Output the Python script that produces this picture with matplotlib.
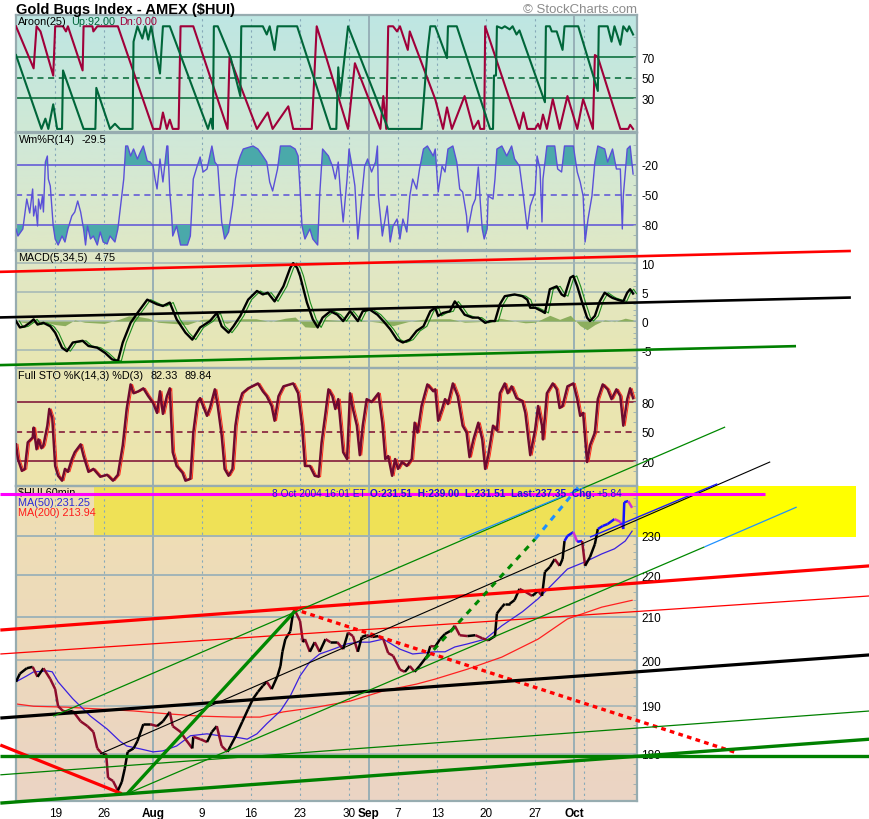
import numpy as np
import matplotlib
matplotlib.use("Agg")
import matplotlib.pyplot as plt
from matplotlib.collections import LineCollection
from matplotlib.patches import Rectangle
from matplotlib.ticker import FixedLocator, FixedFormatter, NullFormatter
from matplotlib.colors import to_rgb

plt.rcParams['font.family'] = ['Liberation Sans', 'DejaVu Sans']
plt.rcParams['axes.unicode_minus'] = False

# time axis in trading days, 0 = Mon 19 Jul 2004 (hourly data)
tick_days = [0, 5, 10, 15, 20, 25, 30, 32, 35, 39, 44, 49, 53]
tick_text = ['19', '26', 'Aug', '9', '16', '23', '30', 'Sep', '7', '13', '20', '27', 'Oct']
week_days = [0, 5, 15, 20, 25, 30, 35, 39, 44, 49, 54]
month_days = [10, 32, 53]

# Aroon(25) up / down  (day, value)
aroon_up = [(-4.0, 72), (-1.4, 0), (-1.0, 10), (-0.7, 0), (-0.2, 24), (0.2, 0), (0.7, 0), (0.8, 57),
            (2.9, 0), (4.1, 0), (4.2, 40), (5.6, 0), (6.1, 5), (6.6, 0), (7.9, 0), (8.0, 85),
            (8.4, 100), (8.9, 88), (9.2, 100), (9.5, 87), (9.8, 100), (10.4, 69), (10.7, 54),
            (11.0, 100), (11.7, 100), (15.6, 0), (15.9, 10), (16.1, 0), (16.2, 100), (16.6, 100),
            (17.9, 70), (18.9, 32), (19.0, 100), (21.2, 100), (21.6, 92), (21.9, 100), (22.4, 77),
            (22.7, 100), (24.7, 100), (28.1, 0), (28.7, 0), (28.9, 60), (29.1, 32), (29.9, 100),
            (34.0, 0), (37.4, 0), (38.0, 75), (38.3, 100), (38.8, 100), (40.0, 69), (40.1, 100),
            (41.0, 100), (44.4, 0), (44.7, 0), (44.8, 52), (45.0, 52), (45.1, 100), (45.6, 98),
            (45.9, 100), (46.4, 97), (46.7, 100), (47.1, 92), (47.4, 96), (50.0, 26), (50.1, 100),
            (50.5, 100), (50.7, 95), (51.2, 95), (51.8, 77), (52.0, 100), (53.4, 100), (55.4, 37),
            (55.5, 100), (56.4, 100), (56.8, 85), (57.1, 100), (57.7, 82), (58.0, 100), (58.4, 95),
            (58.6, 100), (59.0, 92)]
aroon_dn = [(-4.0, 100), (-2.2, 59), (-1.9, 100), (-1.5, 95), (-0.2, 52), (0.0, 100), (0.8, 100),
            (1.1, 95), (1.3, 100), (2.8, 57), (2.9, 100), (3.8, 100), (3.9, 95), (4.3, 100),
            (6.4, 100), (10.0, 0), (10.7, 0), (11.0, 16), (11.4, 0), (11.7, 9), (12.0, 0), (12.6, 0),
            (12.8, 100), (14.1, 100), (17.6, 0), (17.8, 70), (20.6, 0), (21.7, 16), (22.2, 0),
            (23.8, 22), (24.3, 0), (26.2, 0), (26.7, 100), (29.9, 0), (30.6, 64), (33.2, 0),
            (33.5, 32), (33.8, 0), (34.0, 100), (34.5, 100), (34.9, 95), (35.2, 100), (36.0, 77),
            (36.2, 95), (38.8, 29), (39.6, 0), (40.0, 21), (40.5, 0), (41.8, 32), (42.7, 0),
            (43.2, 8), (43.4, 0), (43.8, 0), (43.9, 100), (47.4, 0), (47.8, 16), (48.2, 0), (49.0, 0),
            (49.3, 5), (49.5, 0), (49.8, 14), (50.2, 0), (50.8, 29), (51.5, 0), (52.3, 32), (53.3, 0),
            (53.9, 29), (54.9, 0), (55.1, 72), (55.4, 70), (57.7, 0), (58.5, 0), (58.7, 4), (59.0, 0)]

# Williams %R(14)
wmr = [(-4.0, -84), (-3.8, -91), (-3.3, -84), (-2.9, -54), (-2.6, -68), (-2.3, -44), (-2.2, -71),
       (-2.0, -61), (-1.8, -81), (-1.7, -54), (-1.5, -64), (-1.3, -51), (-1.2, -67), (-1.0, -17),
       (-0.8, -11), (-0.7, -34), (-0.5, -41), (-0.2, -81), (0.0, -94), (0.3, -100), (0.7, -91),
       (1.0, -97), (1.3, -84), (1.7, -71), (2.0, -67), (2.3, -56), (2.6, -67), (2.9, -84),
       (3.1, -100), (3.3, -81), (3.6, -94), (3.9, -91), (4.3, -100), (4.6, -87), (4.9, -97),
       (5.3, -99), (5.6, -91), (6.1, -97), (6.4, -84), (6.8, -51), (7.0, -34), (7.2, -1), (7.4, -1),
       (7.7, -11), (8.0, -4), (8.4, -14), (8.7, -7), (9.0, -1), (9.4, -16), (9.7, -17), (10.0, -21),
       (10.2, -34), (10.4, -44), (10.7, -14), (11.0, -37), (11.4, -1), (11.5, -1), (11.7, -47),
       (11.9, -71), (12.0, -91), (12.4, -81), (12.8, -100), (13.5, -100), (13.8, -91), (14.0, -54),
       (14.1, -34), (14.5, -21), (14.8, -12), (15.1, -27), (15.5, -24), (16.0, -1), (16.3, -17),
       (16.6, -21), (17.0, -77), (17.3, -94), (17.7, -87), (18.1, -61), (18.4, -34), (18.7, -17),
       (18.9, -11), (19.2, -4), (20.2, -1), (20.7, -4), (21.2, -11), (21.6, -17), (21.9, -37),
       (22.2, -46), (22.7, -24), (23.0, -1), (24.0, -1), (24.5, -4), (24.8, -11), (25.0, -44),
       (25.2, -81), (25.5, -94), (26.0, -84), (26.3, -94), (26.8, -100), (27.0, -51), (27.3, -4),
       (27.9, -11), (28.3, -21), (28.6, -34), (28.9, -17), (29.1, -44), (29.4, -77), (29.8, -34),
       (30.0, -4), (30.3, -21), (30.6, -41), (30.9, -94), (31.3, -51), (31.6, -21), (31.9, -14),
       (32.3, -27), (32.7, -17), (32.9, -1), (33.0, -51), (33.4, -91), (33.9, -61), (34.2, -97),
       (34.5, -81), (34.9, -74), (35.2, -94), (35.5, -74), (35.9, -87), (36.2, -51), (36.5, -34),
       (36.9, -44), (37.2, -24), (37.6, -4), (38.0, -1), (38.6, -11), (38.8, -4), (39.1, -47),
       (39.5, -21), (39.8, -27), (40.1, -4), (40.6, -1), (41.0, -17), (41.3, -44), (41.6, -47),
       (42.0, -71), (42.1, -87), (42.6, -61), (42.9, -54), (43.2, -22), (43.4, -57), (43.6, -84),
       (43.8, -94), (44.1, -84), (44.2, -51), (44.7, -54), (44.9, -34), (45.1, -4), (45.6, -1),
       (46.1, -11), (46.6, -1), (46.9, -14), (47.4, -21), (47.8, -51), (48.2, -84), (48.5, -61),
       (49.0, -47), (49.2, -11), (49.5, -24), (49.7, -77), (49.8, -34), (50.2, -1), (51.0, -1),
       (51.3, -24), (51.7, -27), (52.0, -1), (52.9, -1), (53.3, -27), (53.6, -37), (53.9, -51),
       (54.1, -97), (54.4, -74), (54.8, -51), (55.1, -17), (55.4, -1), (56.1, -4), (56.4, -17),
       (56.9, -4), (57.3, -24), (57.7, -24), (57.9, -84), (58.0, -51), (58.4, -4), (58.7, -1),
       (59.0, -29)]

# MACD(5,34,5) line and histogram
macd = [(-4.0, 0.0), (-3.6, -1.1), (-3.1, -0.9), (-2.6, -0.3), (-2.2, 0.3), (-1.8, -0.6), (-1.2, -0.3),
        (-0.5, -0.9), (0.0, -2.0), (0.7, -4.6), (1.2, -5.2), (1.8, -3.7), (2.8, -3.4), (3.4, -4.3),
        (4.3, -4.6), (5.1, -5.5), (5.8, -6.6), (6.4, -6.9), (6.9, -3.7), (7.7, -0.3), (8.4, 1.4),
        (9.4, 3.7), (10.4, 2.9), (11.0, 2.6), (11.7, 3.2), (12.4, 0.3), (13.3, -2.0), (14.0, -3.2),
        (14.8, -1.1), (15.8, 0.0), (16.5, 1.4), (17.0, -0.9), (17.7, -2.0), (18.2, -0.9), (18.9, 0.9),
        (19.7, 3.7), (20.6, 5.2), (21.2, 4.6), (21.7, 4.9), (22.4, 3.4), (23.3, 6.0), (24.0, 9.2),
        (24.3, 10.0), (24.7, 9.2), (25.0, 7.8), (25.7, 3.2), (26.3, 0.3), (26.8, -1.1), (27.3, 0.6),
        (28.1, 1.7), (28.8, 1.1), (29.4, 0.0), (30.1, 1.7), (30.4, 1.1), (30.9, 0.0), (31.4, 1.7),
        (32.1, 2.0), (32.9, 1.1), (33.5, 0.0), (34.2, -1.4), (34.9, -3.2), (35.5, -3.7), (36.2, -3.2),
        (36.9, -1.7), (37.6, -0.9), (38.3, 1.7), (38.8, 2.3), (39.1, 0.9), (39.6, 1.4), (40.3, 1.7),
        (40.8, 3.4), (41.3, 2.3), (41.8, 1.1), (42.6, 0.6), (43.2, 0.6), (43.9, -0.3), (44.4, 0.0),
        (44.9, 0.0), (45.4, 2.9), (45.9, 4.3), (46.9, 4.6), (47.7, 4.3), (48.2, 3.7), (48.5, 2.3),
        (49.0, 2.3), (49.7, 1.7), (50.0, 1.4), (50.5, 5.5), (51.2, 6.0), (51.7, 4.6), (52.0, 4.3),
        (52.6, 7.5), (52.9, 7.8), (53.3, 6.0), (53.8, 3.2), (54.3, 0.6), (54.6, 0.0), (55.1, 0.9),
        (55.6, 3.4), (56.1, 4.9), (56.6, 4.3), (56.9, 4.0), (57.4, 3.7), (58.0, 3.4), (58.4, 4.9),
        (58.7, 5.5), (59.0, 4.75)]
macd_hist = [(-4.0, 0.0), (-3.0, -0.3), (-1.0, -0.2), (0.0, -0.6), (1.0, -0.8), (2.0, 0.2), (3.0, -0.2),
             (5.0, -0.4), (6.5, 0.3), (7.5, 0.9), (8.5, 0.8), (9.5, 0.5), (10.5, -0.2), (12.0, -0.4),
             (13.5, -0.6), (15.0, 0.3), (16.5, 0.4), (17.5, -0.4), (19.0, 0.4), (20.5, 0.4), (22.0, -0.1),
             (23.5, 0.5), (24.5, 0.7), (25.5, -1.0), (26.5, -1.1), (27.5, 0.3), (29.0, 0.1), (30.0, 0.2),
             (31.5, 0.1), (33.0, -0.2), (34.5, -0.8), (36.0, -0.1), (37.5, 0.3), (38.8, 0.4), (40.3, 0.4),
             (41.8, -0.2), (43.2, -0.1), (44.9, 0.2), (45.4, 0.5), (46.9, 0.0), (48.0, -0.3), (49.0, -0.2),
             (50.5, 1.0), (51.5, 0.3), (52.6, 1.0), (53.6, -0.8), (54.3, -1.5), (55.1, -0.6), (56.1, 0.2),
             (57.1, -0.1), (58.2, 0.5), (59.0, 0.2)]

# Full Stochastics %K(14,3)
sto_k = [(-4.0, 37), (-3.8, 22), (-3.4, 10), (-3.1, 12), (-2.8, 39), (-2.3, 44), (-2.2, 54), (-1.9, 32),
         (-1.7, 42), (-1.4, 33), (-1.2, 36), (-0.8, 56), (-0.6, 73), (-0.3, 64), (0.0, 15), (0.3, 5),
         (0.7, 0), (1.0, 12), (1.3, 9), (1.7, 22), (2.0, 29), (2.6, 37), (2.9, 25), (3.4, 9), (3.9, 12),
         (4.6, 4), (5.3, 6), (5.9, 0), (6.4, 6), (6.9, 36), (7.3, 73), (7.7, 98), (8.0, 89), (8.5, 91),
         (9.0, 94), (9.5, 86), (10.0, 79), (10.4, 69), (10.7, 91), (11.0, 68), (11.4, 86), (11.7, 94),
         (12.0, 29), (12.4, 15), (13.0, 8), (13.3, 0), (13.8, 2), (14.1, 49), (14.5, 80), (14.8, 84),
         (15.1, 76), (15.5, 66), (15.8, 74), (16.3, 93), (16.6, 76), (17.0, 46), (17.3, 12), (17.7, 5),
         (18.1, 12), (18.4, 56), (18.7, 76), (19.1, 89), (19.7, 94), (20.7, 99), (21.2, 91), (21.6, 86),
         (22.1, 76), (22.4, 61), (22.8, 86), (23.3, 96), (24.3, 99), (24.8, 89), (25.2, 56), (25.5, 15),
         (26.0, 15), (26.5, 5), (26.9, 4), (27.2, 39), (27.6, 69), (27.9, 93), (28.3, 86), (28.6, 73),
         (28.9, 83), (29.4, 29), (29.8, 22), (30.1, 89), (30.4, 73), (30.8, 56), (31.1, 26), (31.4, 56),
         (31.8, 83), (32.3, 80), (33.0, 89), (33.4, 59), (33.7, 22), (34.0, 25), (34.4, 5), (34.7, 22),
         (35.0, 12), (35.4, 19), (35.9, 15), (36.4, 22), (36.7, 59), (37.0, 49), (37.4, 76), (38.0, 98),
         (38.6, 91), (38.8, 93), (39.1, 61), (39.5, 73), (39.8, 83), (40.1, 78), (40.6, 99), (41.1, 86),
         (41.6, 56), (42.0, 49), (42.3, 24), (42.7, 42), (43.2, 59), (43.6, 42), (43.9, 12), (44.2, 25),
         (44.7, 56), (45.1, 51), (45.4, 89), (45.9, 99), (46.2, 89), (46.6, 96), (47.1, 84), (47.7, 81),
         (48.0, 69), (48.5, 26), (49.0, 52), (49.3, 76), (49.7, 56), (49.8, 42), (50.2, 89), (50.8, 99),
         (51.2, 93), (51.5, 74), (51.8, 76), (52.3, 96), (52.9, 99), (53.3, 83), (53.6, 66), (53.9, 69),
         (54.3, 19), (54.6, 36), (55.1, 49), (55.4, 83), (55.9, 98), (56.4, 93), (56.8, 83), (57.3, 93),
         (57.7, 86), (58.0, 56), (58.4, 83), (58.7, 94), (59.0, 84)]

# $HUI 60-min closes and moving averages
price = [(-4.0, 195.2), (-3.6, 197.0), (-2.9, 198.2), (-2.3, 198.5), (-1.8, 196.3), (-1.2, 198.2),
         (-0.5, 195.8), (0.0, 193.6), (0.3, 189.9), (0.8, 188.9), (1.3, 188.7), (1.8, 188.9), (2.6, 186.7),
         (3.3, 185.7), (3.9, 184.5), (4.3, 181.1), (4.8, 180.0), (5.2, 180.0), (5.4, 175.2), (5.9, 174.6),
         (6.4, 172.7), (6.8, 174.4), (7.1, 177.0), (7.4, 180.4), (8.0, 181.1), (8.4, 182.6), (9.0, 186.1),
         (9.7, 186.1), (10.4, 185.7), (11.0, 186.7), (11.7, 188.7), (12.0, 185.7), (12.8, 184.5),
         (13.3, 183.0), (14.0, 181.1), (14.1, 183.5), (14.8, 183.0), (15.5, 182.4), (16.0, 184.5),
         (16.5, 185.7), (17.0, 181.6), (17.6, 180.4), (17.9, 181.6), (18.4, 183.5), (19.1, 186.6),
         (19.7, 189.3), (20.2, 191.5), (20.7, 193.0), (21.2, 194.3), (21.6, 195.2), (22.1, 193.6),
         (22.7, 196.5), (23.0, 198.7), (23.2, 201.9), (23.5, 204.8), (24.0, 206.6), (24.3, 211.2),
         (24.5, 211.4), (25.0, 209.0), (25.3, 204.1), (25.5, 204.8), (26.0, 201.9), (26.5, 204.1),
         (27.0, 201.9), (27.6, 204.8), (28.1, 204.1), (28.8, 204.1), (29.4, 202.5), (29.9, 206.3),
         (30.4, 205.5), (30.9, 201.9), (31.3, 205.3), (31.8, 205.7), (32.4, 205.3), (33.0, 205.5),
         (33.5, 204.8), (34.0, 201.6), (34.5, 201.0), (35.2, 197.9), (35.7, 197.4), (36.2, 198.7),
         (36.7, 197.4), (37.2, 198.7), (38.0, 201.0), (38.3, 203.2), (38.8, 203.1), (39.3, 204.8),
         (39.8, 206.0), (40.5, 206.9), (40.8, 207.9), (41.3, 205.7), (42.1, 205.5), (42.9, 205.7),
         (43.6, 205.0), (44.2, 204.5), (44.9, 205.5), (45.1, 210.8), (45.6, 212.3), (45.9, 213.1),
         (46.4, 213.1), (46.9, 214.0), (47.4, 216.7), (48.0, 216.0), (48.7, 215.0), (49.3, 216.2),
         (49.7, 215.0), (50.0, 220.9), (50.5, 222.1), (51.0, 224.1), (51.5, 222.4), (51.8, 224.1),
         (52.0, 228.7), (52.3, 230.0), (52.9, 231.0), (53.3, 228.5), (53.8, 228.7), (54.1, 222.4),
         (54.6, 224.6), (55.1, 227.9), (55.4, 231.8), (55.9, 232.6), (56.4, 233.1), (57.1, 234.4),
         (57.7, 233.7), (58.0, 231.8), (58.1, 238.9), (58.5, 239.2), (58.9, 237.4)]
ma50 = [(-4.0, 195.2), (-2.9, 196.5), (-2.2, 197.4), (-0.8, 197.6), (-0.3, 197.4), (0.3, 195.2),
        (1.8, 191.5), (3.6, 187.8), (5.3, 185.1), (6.6, 182.6), (7.3, 181.6), (8.7, 181.0), (10.0, 180.4),
        (11.0, 180.6), (12.4, 181.6), (13.8, 183.7), (15.5, 184.1), (16.8, 183.7), (18.2, 183.5),
        (19.6, 183.0), (20.6, 184.1), (21.6, 186.2), (23.0, 188.9), (24.0, 192.1), (25.0, 196.5),
        (26.0, 199.6), (27.0, 201.4), (28.4, 202.5), (29.8, 203.7), (30.9, 204.1), (32.1, 204.1),
        (33.5, 204.8), (35.2, 202.5), (36.5, 201.4), (38.8, 201.9), (39.8, 201.9), (40.8, 203.0),
        (42.1, 203.7), (43.9, 204.8), (45.6, 207.9), (47.7, 211.2), (49.3, 214.3), (51.0, 218.4),
        (52.3, 221.6), (54.1, 223.4), (55.8, 225.4), (57.1, 226.7), (58.2, 228.7), (58.9, 231.25)]
ma200 = [(-4.0, 190.4), (-2.2, 189.9), (1.2, 189.7), (4.6, 189.3), (8.0, 188.9), (11.4, 188.3),
         (14.8, 187.8), (18.2, 187.6), (20.9, 187.6), (23.3, 188.7), (26.7, 189.7), (30.1, 191.0),
         (33.5, 193.2), (36.9, 194.7), (38.8, 195.8), (42.1, 198.0), (45.6, 200.7), (49.3, 204.8),
         (52.3, 209.5), (55.8, 212.3), (58.9, 213.94)]

# hand-drawn trend lines: (day0, price0, day1, price1)
trend_pts = [(-5.6, 206.9, 83.2, 222.4), (-5.6, 201.4, 83.2, 215.0), (24.3, 211.9, 69.6, 180.2),
             (-5.6, 181.8, 6.8, 172.1), (-5.6, 187.4, 83.2, 201.2), (4.6, 180.0, 73.0, 250.0),
             (7.35, 172.1, 24.5, 211.4), (37.8, 200.3, 49.0, 229.2), (49.0, 229.2, 53.4, 243.0),
             (-0.2, 187.8, 68.4, 260.0), (7.35, 172.1, 66.3, 227.2), (66.3, 227.2, 75.7, 237.6),
             (41.3, 229.2, 53.9, 242.8), (54.6, 229.7, 67.6, 243.9), (-5.6, 179.6, 83.2, 179.6),
             (-5.6, 170.3, 83.2, 183.0), (-5.6, 175.8, 83.2, 188.9), (-5.6, 241.1, 72.5, 241.1)]
trend_style = [('#ff0000', 2.3, None), ('#ff0000', 0.9, None), ('#ff0000', 2.4, (1.4, 1.3)),
               ('#ff0000', 2.3, None), ('#000000', 2.3, None), ('#000000', 0.8, None),
               ('#008800', 2.4, None), ('#008800', 2.2, (2, 2)), ('#1e90ff', 2.2, (2, 2)),
               ('#008800', 0.9, None), ('#008800', 0.9, None), ('#1e90ff', 0.9, None),
               ('#1e90ff', 0.9, None), ('#1a1aff', 1.0, None), ('#008000', 2.4, None),
               ('#008000', 2.4, None), ('#008000', 0.9, None), ('#ff00ff', 2.2, None)]
macd_trend = [(-5.6, 8.5, 81.1, 12.1), (-5.6, 0.63, 81.1, 4.06), (-5.6, -7.6, 75.5, -4.33)]
macd_trend_col = ['#ff0000', '#000000', '#008000']
band_lo, band_hi = 229.7, 243.3

W, H = 870, 820
XL = (-4.0, 59.4)
fig = plt.figure(figsize=(8.7, 8.2), dpi=100)


def panel(top, bottom, c_top, c_bot, z=1):
    rect = [16 / W, 1 - bottom / H, 621 / W, (bottom - top) / H]
    bg = fig.add_axes(rect, zorder=-5)
    g = np.linspace(0, 1, 64)[:, None]
    img = (np.array(to_rgb(c_top)) * (1 - g) + np.array(to_rgb(c_bot)) * g)[:, None, :]
    bg.imshow(img, aspect='auto', extent=[0, 1, 0, 1])
    bg.axis('off')
    ax = fig.add_axes(rect, zorder=z)
    ax.set_facecolor('none')
    ax.set_xlim(*XL)
    for d in week_days:
        ax.axvline(d, color='#86a9b8', lw=0.8, ls=(0, (2, 3)), zorder=0.8)
    for d in month_days:
        ax.axvline(d, color='#93acb4', lw=1.3, zorder=0.8)
    for s in ax.spines.values():
        s.set_color('#97acb0')
        s.set_linewidth(1.6)
    ax.set_xticks([])
    ax.yaxis.tick_right()
    ax.tick_params(axis='y', which='both', direction='in', length=3, pad=3,
                   labelsize=8.5, color='#97acb0', labelcolor='black')
    return ax


def label_chain(ax, y, parts, x=0.004, size=7.8):
    t = ax.text(x, y, parts[0][0], color=parts[0][1], fontsize=size, transform=ax.transAxes,
                va='center', fontweight=parts[0][2] if len(parts[0]) > 2 else 'normal', zorder=6)
    for p in parts[1:]:
        t = ax.annotate(p[0], xy=(1, 0), xycoords=t, xytext=(p[3] if len(p) > 3 else 3, 0),
                        textcoords='offset points', va='bottom', color=p[1], fontsize=size,
                        fontweight=p[2] if len(p) > 2 else 'normal', zorder=6)
    return t


def xy(pairs):
    a = np.array(pairs, dtype=float)
    return a[:, 0], a[:, 1]


fig.text(16 / W, 1 - 10 / H, 'Gold Bugs Index - AMEX (\\$HUI)', fontsize=10.5, fontweight='bold', va='center')
fig.text(637 / W, 1 - 10 / H, '© StockCharts.com', fontsize=9.5, color='#8c8c8c', ha='right', va='center')

# Aroon
ax1 = panel(16, 133, '#bee6e3', '#cfe9d5')
ax1.set_ylim(-3, 111)
for v, ls in [(70, '-'), (50, (0, (4, 3))), (30, '-')]:
    ax1.axhline(v, color='#006633', lw=1.1, ls=ls, zorder=1)
x, v = xy(aroon_dn)
ax1.plot(x, v, color='#a0003a', lw=1.5, zorder=3)
x, v = xy(aroon_up)
ax1.plot(x, v, color='#00663a', lw=1.5, zorder=3)
ax1.yaxis.set_major_locator(FixedLocator([30, 50, 70]))
ax1.yaxis.set_minor_locator(FixedLocator(range(10, 100, 10)))
label_chain(ax1, 1 - 6 / 117, [('Aroon(25)', 'black'), ('Up:92.00', '#00663a'), ('Dn:0.00', '#a0003a')])

# Williams %R
ax2 = panel(134, 251, '#cfe8d9', '#dfe8c6')
ax2.set_ylim(-105, 12)
for v, ls in [(-20, '-'), (-50, (0, (4, 3))), (-80, '-')]:
    ax2.axhline(v, color='#5a50d8', lw=1.1, ls=ls, zorder=1)
x, v = xy(wmr)
ax2.fill_between(x, v, -20, where=v > -20, interpolate=True, color='#4aa9aa', lw=0, zorder=2)
ax2.fill_between(x, v, -80, where=v < -80, interpolate=True, color='#4aa9aa', lw=0, zorder=2)
ax2.plot(x, v, color='#5a50d8', lw=1.0, zorder=3)
ax2.yaxis.set_major_locator(FixedLocator([-80, -50, -20]))
ax2.yaxis.set_minor_locator(FixedLocator(range(-90, 10, 10)))
label_chain(ax2, 1 - 6 / 117, [('Wm%R(14)', 'black'), ('-29.5', 'black', 'normal', 5)])

# MACD
ax3 = panel(252, 369, '#e0e8c8', '#e8e6b2', z=2)
ax3.set_ylim(-8.1, 12.1)
for v in [-5, 0, 5, 10]:
    ax3.axhline(v, color='#a3b6b6', lw=1.1, zorder=1)
x, v = xy(macd_hist)
ax3.fill_between(x, v, 0, color='#8cae5e', lw=0, zorder=2)
x, v = xy(macd)
ax3.plot(x + 0.35, v, color='#1e8c1e', lw=0.8, zorder=3)
ax3.plot(x, v, color='black', lw=1.7, zorder=4)
for (d0, v0, d1, v1), c in zip(macd_trend, macd_trend_col):
    ax3.plot([d0, d1], [v0, v1], color=c, lw=1.9, clip_on=False, zorder=5)
ax3.yaxis.set_major_locator(FixedLocator([-5, 0, 5, 10]))
ax3.yaxis.set_minor_locator(FixedLocator(range(-7, 12)))
label_chain(ax3, 1 - 6 / 117, [('MACD(5,34,5)', 'black'), ('4.75', 'black', 'normal', 5)])

# Full Stochastics
ax4 = panel(369, 487, '#e8e6b4', '#eee4ac')
ax4.set_ylim(-5.4, 114.7)
for v, ls in [(80, '-'), (50, (0, (4, 3))), (20, '-')]:
    ax4.axhline(v, color='#7a0a30', lw=1.1, ls=ls, zorder=1)
x, v = xy(sto_k)
ax4.plot(x + 0.2, v, color='#ff2a1a', lw=0.7, zorder=3)
ax4.plot(x, v, color='#6e0a30', lw=1.8, zorder=4)
ax4.yaxis.set_major_locator(FixedLocator([20, 50, 80]))
ax4.yaxis.set_minor_locator(FixedLocator(range(10, 110, 10)))
label_chain(ax4, 1 - 7 / 118, [('Full STO %K(14,3) %D(3)', 'black'), ('82.33', 'black', 'normal', 5),
                               ('89.84', 'black', 'normal', 5)])

# price panel
ax5 = panel(487, 802, '#efdfb3', '#ebd4c4', z=6)
ax5.set_yscale('log')
ax5.set_ylim(170.7, 243.3)
ax5.set_xlim(*XL)
levels = [180, 190, 200, 210, 220, 230]
for v in levels:
    ax5.axhline(v, color='#9fb3b8', lw=1.1, zorder=0.8)
ax5.add_patch(Rectangle((4.0, band_lo), 80, band_hi - band_lo, color='#efe156', lw=0, zorder=0.5))
ax5.add_patch(Rectangle((XL[1], band_lo), 81.8 - XL[1], band_hi - band_lo, color='#ffff00', lw=0,
                        zorder=0.5, clip_on=False))
for v in [230, 220, 210]:
    ax5.axhline(v, xmin=0, xmax=1, color='#9fb3b8', lw=1.1, zorder=0.9)

x, v = xy(ma200)
ax5.plot(x, v, color='#ff2020', lw=0.9, zorder=2)
x, v = xy(ma50)
ax5.plot(x, v, color='#3a20e0', lw=0.9, zorder=2)

x, v = xy(price)
segs, cols = [], []
for i in range(len(x) - 1):
    segs.append([(x[i], v[i]), (x[i + 1], v[i + 1])])
    up = v[i + 1] >= v[i]
    if min(v[i], v[i + 1]) >= band_lo - 1.5:
        cols.append('#1414ff' if up else '#d030d8')
    else:
        cols.append('#000000' if up else '#8c0c2c')
ax5.add_collection(LineCollection(segs, colors=cols, linewidths=1.8, zorder=3))

for (d0, p0, d1, p1), (c, lw, dash) in zip(trend_pts, trend_style):
    ln, = ax5.plot([d0, d1], [p0, p1], color=c, lw=lw, clip_on=False, zorder=4,
                   solid_capstyle='butt')
    if dash:
        ln.set_dashes(dash)

ax5.yaxis.set_major_locator(FixedLocator(levels))
ax5.yaxis.set_major_formatter(FixedFormatter([str(l) for l in levels]))
ax5.yaxis.set_minor_locator(FixedLocator(range(172, 244, 2)))
ax5.yaxis.set_minor_formatter(NullFormatter())
ax5.set_xticks(tick_days)
ax5.set_xticklabels(tick_text)
ax5.tick_params(axis='x', length=0, pad=4, labelsize=8.5)
for t in ax5.get_xticklabels():
    if t.get_text() in ('Aug', 'Sep', 'Oct'):
        t.set_fontweight('bold')

ax5.text(0.004, 1 - 6 / 315, '\\$HUI 60min', fontsize=7.8, transform=ax5.transAxes, va='center', zorder=3)
ax5.text(0.004, 1 - 16 / 315, 'MA(50) 231.25', fontsize=7.8, color='#2a2ad8', transform=ax5.transAxes,
         va='center', zorder=3)
ax5.text(0.004, 1 - 26 / 315, 'MA(200) 213.94', fontsize=7.8, color='#ff1a1a', transform=ax5.transAxes,
         va='center', zorder=3)
label_chain(ax5, 1 - 7 / 315, [('8 Oct 2004 16:01 ET', '#1a1ad0'),
                               ('O:231.51  H:239.00  L:231.51  Last:237.35  Chg:', '#1a1ad0', 'bold', 3),
                               ('+5.84', '#1a1ad0', 'normal', 1)], x=0.412, size=7.3)

fig.savefig('out.png', dpi=100)
